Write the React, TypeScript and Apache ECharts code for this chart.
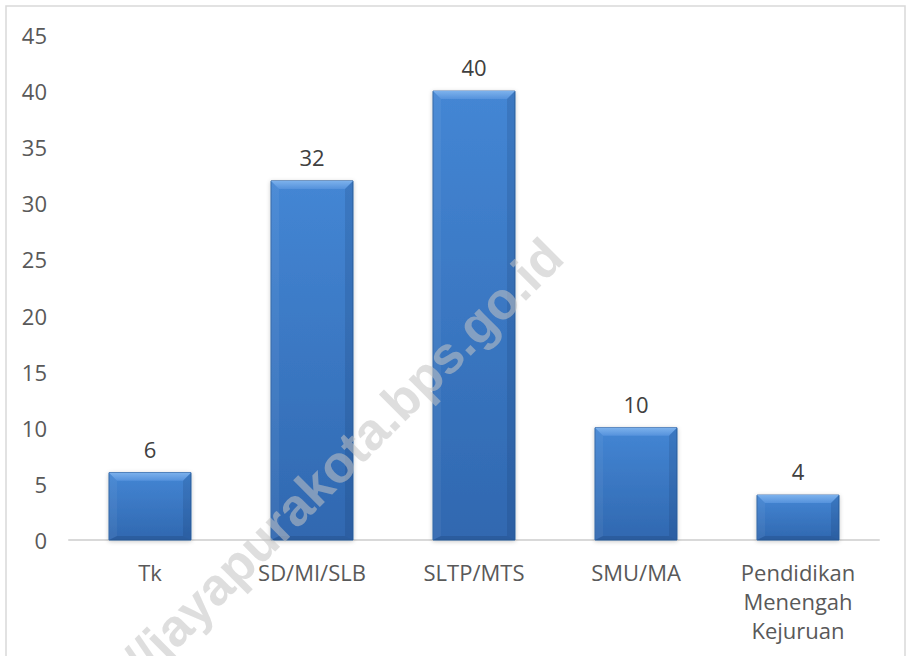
import React, { useEffect, useRef } from "react";
import * as echarts from "echarts";

const categories = ["Tk", "SD/MI/SLB", "SLTP/MTS", "SMU/MA", "Pendidikan\nMenengah\nKejuruan"];
const values = [6, 32, 40, 10, 4];
const yTicks = { min: 0, max: 45, interval: 5 };
const watermark = "https://jayapurakota.bps.go.id";

export default function App() {
  const ref = useRef<HTMLDivElement>(null);
  useEffect(() => {
    document.body.style.margin = "0";
    const chart = echarts.init(ref.current!, undefined, { renderer: "svg" });
    const font = "'Open Sans', 'Noto Sans', sans-serif";
    chart.setOption({
      animation: false,
      backgroundColor: "#ffffff",
      grid: { left: 69, right: 29, top: 35, bottom: 116, containLabel: false },
      xAxis: {
        type: "category",
        data: categories,
        axisTick: { show: false },
        axisLine: { lineStyle: { color: "#d9d9d9", width: 2 } },
        axisLabel: {
          color: "#595959",
          fontSize: 22,
          fontFamily: font,
          lineHeight: 29,
          margin: 17,
          interval: 0,
        },
      },
      yAxis: {
        type: "value",
        min: yTicks.min,
        max: yTicks.max,
        interval: yTicks.interval,
        splitLine: { show: false },
        axisLine: { show: false },
        axisTick: { show: false },
        axisLabel: { color: "#595959", fontSize: 22, fontFamily: font, margin: 22 },
      },
      series: [
        {
          type: "custom",
          data: values.map((v, i) => [i, v]),
          encode: { x: 0, y: 1 },
          renderItem: (params: any, api: any) => {
            const top = api.coord([api.value(0), api.value(1)]);
            const base = api.coord([api.value(0), 0]);
            const w = 82;
            const x0 = top[0] - w / 2;
            const x1 = top[0] + w / 2;
            const y0 = top[1];
            const y1 = base[1];
            const h = y1 - y0;
            const b = Math.min(8, h / 3);
            const bb = Math.min(4, h / 6);
            return {
              type: "group",
              children: [
                {
                  type: "rect",
                  shape: { x: x0, y: y0, width: w, height: h },
                  style: {
                    fill: new echarts.graphic.LinearGradient(0, 0, 0, 1, [
                      { offset: 0, color: "#4486d4" },
                      { offset: 1, color: "#3068b0" },
                    ]),
                    stroke: "#2f62a3",
                    lineWidth: 1,
                    shadowBlur: 4,
                    shadowColor: "rgba(0,0,0,0.22)",
                    shadowOffsetY: 1,
                  },
                },
                {
                  type: "polygon",
                  shape: { points: [[x0, y0], [x1, y0], [x1 - b, y0 + b], [x0 + b, y0 + b]] },
                  style: {
                    fill: new echarts.graphic.LinearGradient(0, 0, 0, 1, [
                      { offset: 0, color: "#7cb1ec" },
                      { offset: 1, color: "#5592dc" },
                    ]),
                  },
                },
                {
                  type: "polygon",
                  shape: { points: [[x0, y0], [x0 + b, y0 + b], [x0 + b, y1 - bb], [x0, y1]] },
                  style: { fill: "rgba(255,255,255,0.05)" },
                },
                {
                  type: "polygon",
                  shape: { points: [[x1, y0], [x1 - b, y0 + b], [x1 - b, y1 - bb], [x1, y1]] },
                  style: { fill: "rgba(10,30,70,0.13)" },
                },
                {
                  type: "polygon",
                  shape: { points: [[x0, y1], [x0 + b, y1 - bb], [x1 - b, y1 - bb], [x1, y1]] },
                  style: { fill: "rgba(10,30,70,0.16)" },
                },
                {
                  type: "text",
                  x: top[0],
                  y: y0 - 24,
                  style: {
                    text: String(api.value(1)),
                    fill: "#404040",
                    fontSize: 22,
                    fontFamily: font,
                    align: "center",
                    verticalAlign: "middle",
                  },
                },
              ],
            };
          },
        },
      ],
      graphic: [
        {
          type: "rect",
          silent: true,
          shape: { x: 6, y: 6, width: 899, height: 700 },
          style: { fill: "none", stroke: "#d9d9d9", lineWidth: 1.5 },
          z: 0,
        },
        {
          type: "text",
          silent: true,
          x: 572,
          y: 266,
          rotation: Math.PI / 4,
          z: 100,
          style: {
            text: watermark,
            fill: "rgba(195,195,195,0.55)",
            fontSize: 52,
            fontWeight: "bold",
            fontFamily: "'Liberation Sans', Arial, sans-serif",
            align: "right",
            verticalAlign: "bottom",
          },
        },
      ],
    });
    return () => chart.dispose();
  }, []);
  return <div ref={ref} style={{ width: 908, height: 656 }} />;
}
